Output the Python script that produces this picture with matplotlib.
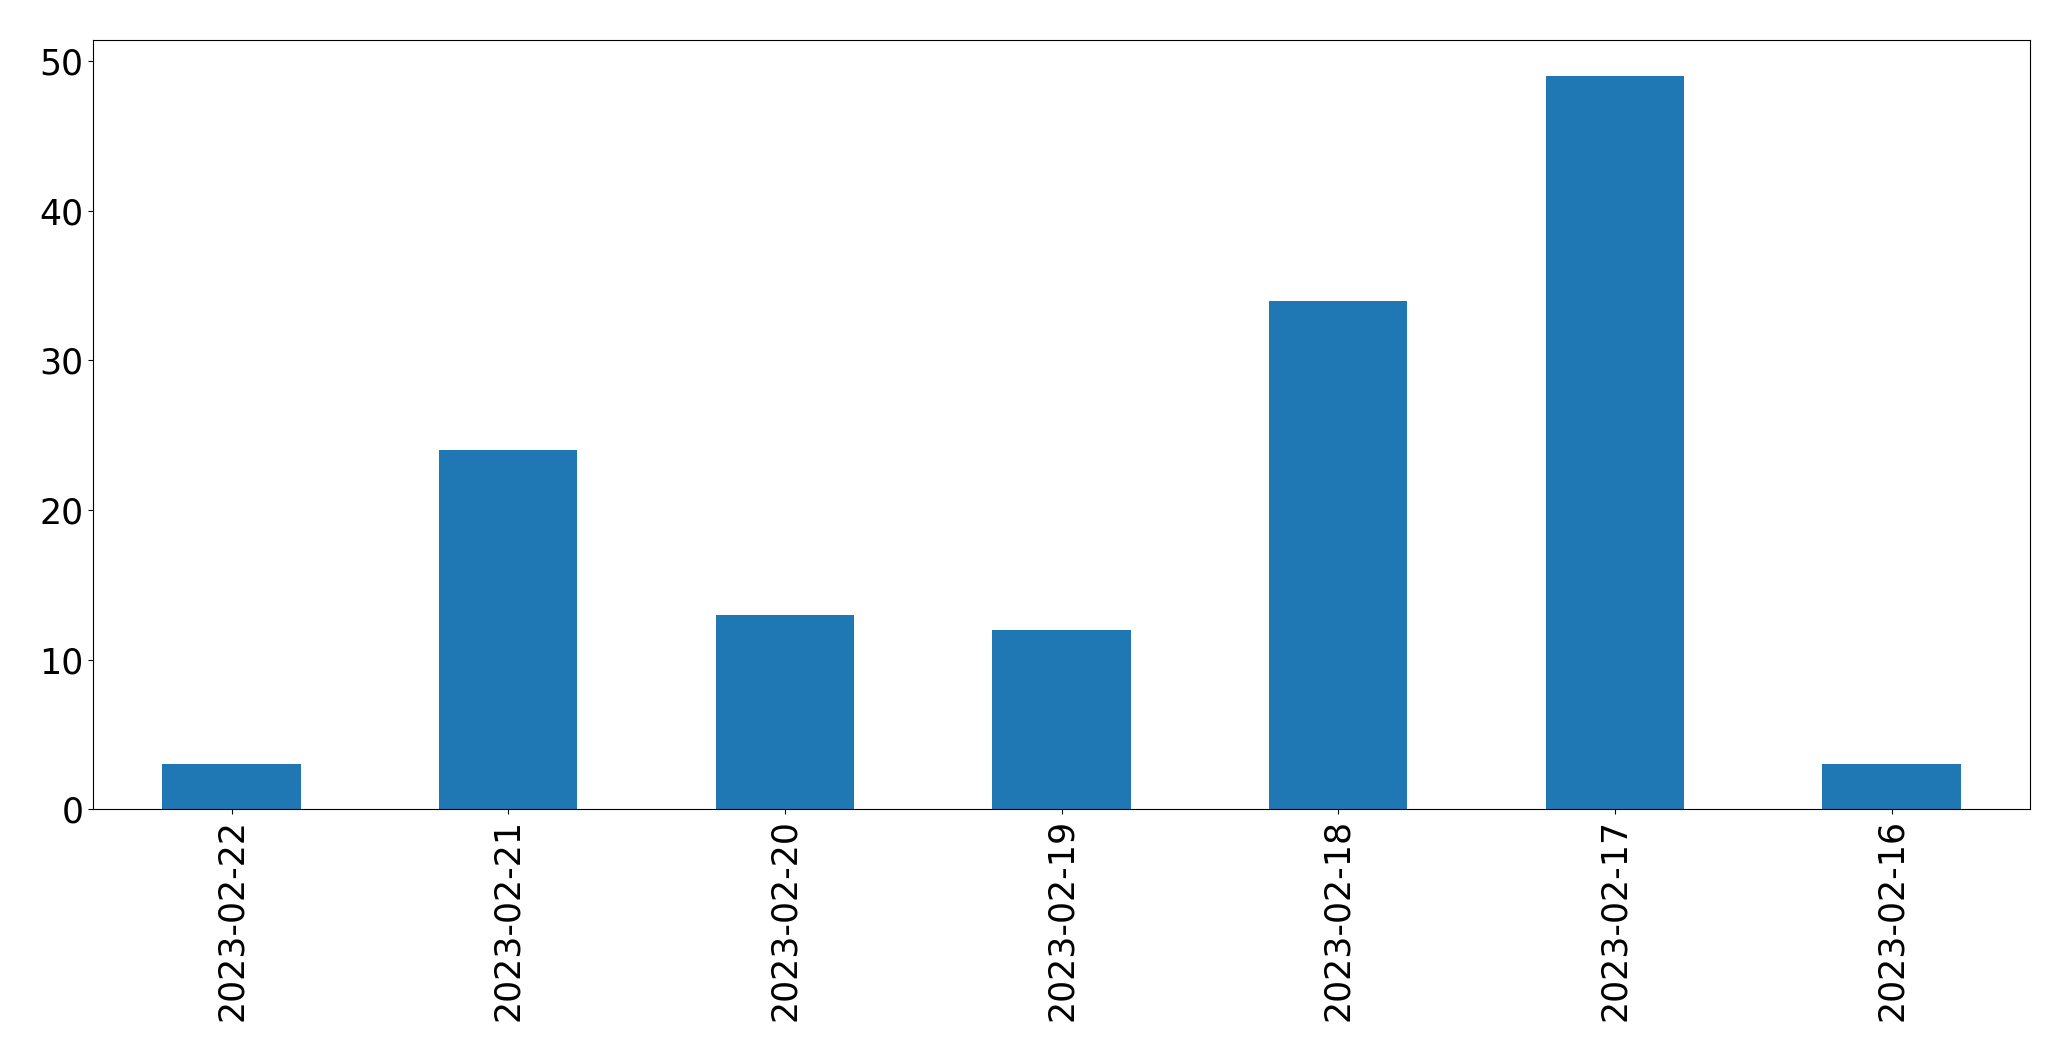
import pandas as pd
import matplotlib.pyplot as plt

# counts per day, newest first (as in the original)
dates = ["2023-02-22", "2023-02-21", "2023-02-20", "2023-02-19",
         "2023-02-18", "2023-02-17", "2023-02-16"]
counts = [3, 24, 13, 12, 34, 49, 3]

s = pd.Series(counts, index=dates)

fig = plt.figure(figsize=(20.71, 10.61), dpi=100)
ax = fig.add_axes([0.0450, 0.2375, 0.9352, 0.7250])
s.plot(kind="bar", ax=ax, color="#1f77b4", fontsize=25)
ax.tick_params(axis="x", labelrotation=90)

fig.savefig("out.png", dpi=100)
